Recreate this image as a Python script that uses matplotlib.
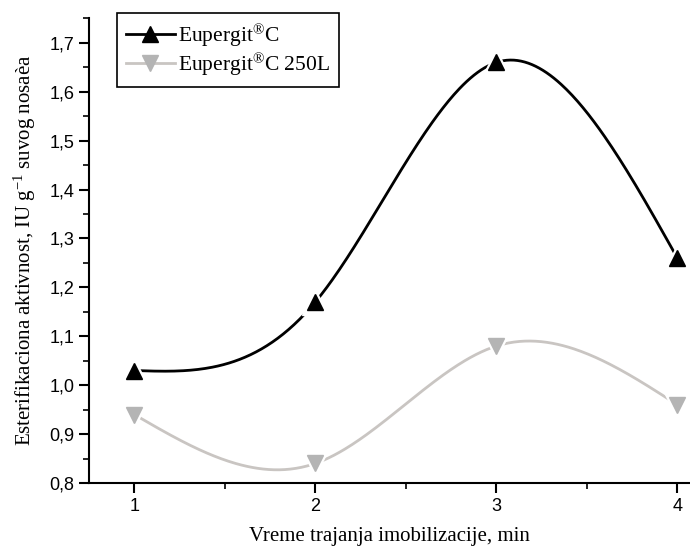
import numpy as np
import matplotlib.pyplot as plt
from matplotlib.ticker import MultipleLocator, FuncFormatter

# podaci
vreme = [1, 2, 3, 4]
eupergit_c = [1.03, 1.17, 1.66, 1.26]
eupergit_c250l = [0.94, 0.84, 1.08, 0.96]


def natural_spline(x, y, n=300):
    # prirodni kubni splajn kroz tacke
    x = np.asarray(x, float)
    y = np.asarray(y, float)
    k = len(x)
    h = np.diff(x)
    A = np.zeros((k, k))
    b = np.zeros(k)
    A[0, 0] = A[-1, -1] = 1
    for i in range(1, k - 1):
        A[i, i - 1] = h[i - 1]
        A[i, i] = 2 * (h[i - 1] + h[i])
        A[i, i + 1] = h[i]
        b[i] = 6 * ((y[i + 1] - y[i]) / h[i] - (y[i] - y[i - 1]) / h[i - 1])
    M = np.linalg.solve(A, b)
    xs = np.linspace(x[0], x[-1], n)
    idx = np.clip(np.searchsorted(x, xs) - 1, 0, k - 2)
    x0, x1 = x[idx], x[idx + 1]
    hh = x1 - x0
    ys = (M[idx] * (x1 - xs) ** 3 / (6 * hh) + M[idx + 1] * (xs - x0) ** 3 / (6 * hh)
          + (y[idx] / hh - M[idx] * hh / 6) * (x1 - xs)
          + (y[idx + 1] / hh - M[idx + 1] * hh / 6) * (xs - x0))
    return xs, ys


plt.rcParams['mathtext.fontset'] = 'custom'
plt.rcParams['mathtext.rm'] = 'Liberation Serif'
plt.rcParams['mathtext.it'] = 'Liberation Serif:italic'

fig = plt.figure(figsize=(6.9, 5.53), dpi=100)
ax = fig.add_axes([0.129, 0.1266, 0.871, 0.841])

crna = 'black'
siva_linija = '#c9c5c2'
siva_marker = '#b4b4b4'

xs, ys = natural_spline(vreme, eupergit_c)
ax.plot(xs, ys, color=crna, lw=2, zorder=2)
xs, ys = natural_spline(vreme, eupergit_c250l)
ax.plot(xs, ys, color=siva_linija, lw=2, zorder=2)

# beli "prazan prostor" oko markera
ax.plot(vreme, eupergit_c, ls='none', marker='^', ms=19, color='white', zorder=3)
ax.plot(vreme, eupergit_c250l, ls='none', marker='v', ms=19, color='white', zorder=3)
ax.plot(vreme, eupergit_c, ls='none', marker='^', ms=12, color=crna, zorder=4)
ax.plot(vreme, eupergit_c250l, ls='none', marker='v', ms=12, color=siva_marker, zorder=4)

# legenda
h1, = ax.plot([], [], color=crna, lw=2, marker='^', ms=12)
h2, = ax.plot([], [], color=siva_linija, lw=2, marker='v', ms=12, mfc=siva_marker, mec=siva_marker)
leg = ax.legend([h1, h2], [r'Eupergit$^{\mathrm{®}}$C', r'Eupergit$^{\mathrm{®}}$C 250L'],
                loc='upper left', bbox_to_anchor=(0.1696, 0.9765), bbox_transform=fig.transFigure,
                borderaxespad=0, fancybox=False,
                edgecolor='black', framealpha=1, handlelength=2.3, handletextpad=0.15,
                borderpad=0.4, labelspacing=0.12,
                prop={'family': 'Liberation Serif', 'size': 15.5})
leg.get_frame().set_linewidth(1.2)

ax.set_xlim(0.75, 4.07)
ax.set_ylim(0.8, 1.751)
ax.xaxis.set_major_locator(MultipleLocator(1))
ax.xaxis.set_minor_locator(MultipleLocator(0.5))
ax.yaxis.set_major_locator(MultipleLocator(0.1))
ax.yaxis.set_minor_locator(MultipleLocator(0.05))
ax.yaxis.set_major_formatter(FuncFormatter(lambda v, p: f'{v:.1f}'.replace('.', ',')))

for s in ['top', 'right']:
    ax.spines[s].set_visible(False)
for s in ['left', 'bottom']:
    ax.spines[s].set_linewidth(1.5)
ax.tick_params(which='major', direction='out', length=7, width=1.5, labelsize=13)
ax.tick_params(which='minor', direction='out', length=4, width=1.2)
for t in ax.get_xticklabels() + ax.get_yticklabels():
    t.set_family('Liberation Sans')

ax.set_xlabel('Vreme trajanja imobilizacije, min', family='Liberation Serif', fontsize=15, labelpad=9)
ax.set_ylabel(r'Esterifikaciona aktivnost, IU g$^{\mathrm{-1}}$ suvog nosaèa', family='Liberation Serif',
              fontsize=15, labelpad=8)

plt.savefig('out.png', dpi=100)
